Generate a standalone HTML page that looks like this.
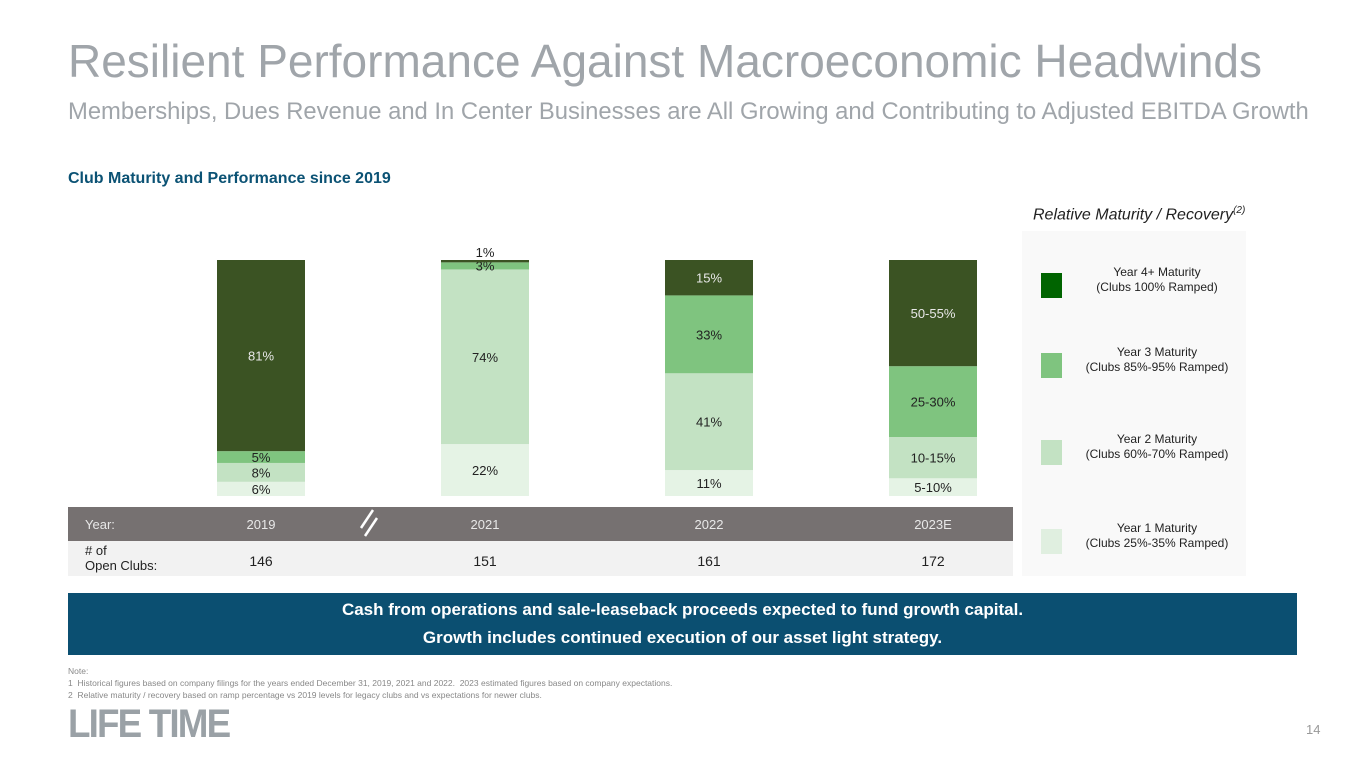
<!DOCTYPE html>
<html><head><meta charset="utf-8"><style>
body{margin:0;width:1365px;height:768px;background:#fff;font-family:"Liberation Sans",Arial,sans-serif;position:relative;overflow:hidden}
.a{position:absolute;white-space:nowrap}
</style></head><body>
<div class="a" style="left:68px;top:34px;font-size:46px;color:#a0a5aa">Resilient Performance Against Macroeconomic Headwinds</div>
<div class="a" style="left:68px;top:98px;font-size:23.8px;color:#a0a5aa">Memberships, Dues Revenue and In Center Businesses are All Growing and Contributing to Adjusted EBITDA Growth</div>
<div class="a" style="left:68px;top:170px;font-size:16px;font-weight:bold;color:#0b5274">Club Maturity and Performance since 2019</div>
<div class="a" style="left:1033px;top:205px;font-size:16px;font-style:italic;color:#222">Relative Maturity / Recovery<sup style="font-size:10px">(2)</sup></div>
<svg id="chart" width="1365" height="768" style="position:absolute;left:0;top:0"></svg>
<div class="a" style="left:68px;top:593px;width:1229px;height:62px;background:#0b4f71;color:#fff;font-weight:bold;font-size:17px;text-align:center;line-height:28px;padding-top:3px;box-sizing:border-box">Cash from operations and sale-leaseback proceeds expected to fund growth capital.<br>Growth includes continued execution of our asset light strategy.</div>
<div class="a" style="left:68px;top:665px;font-size:8.5px;color:#888;line-height:12px">Note:<br>1&nbsp; Historical figures based on company filings for the years ended December 31, 2019, 2021 and 2022.&nbsp; 2023 estimated figures based on company expectations.<br>2&nbsp; Relative maturity / recovery based on ramp percentage vs 2019 levels for legacy clubs and vs expectations for newer clubs.</div>
<div class="a" style="left:68px;top:704px;font-size:40px;font-weight:bold;color:#9aa1a6;letter-spacing:-2px;transform:scaleX(0.92);transform-origin:left;line-height:40px">LIFE TIME</div>
<div class="a" style="left:1306px;top:722px;font-size:13px;color:#999">14</div>
<script>
const years=["2019","2021","2022","2023E"];
const clubs=["146","151","161","172"];
const year1=[6,22,11,7.5];
const year2=[8,74,41,17.5];
const year3=[5,3,33,30];
const year4=[81,1,15,45];
const lab1=["6%","22%","11%","5-10%"];
const lab2=["8%","74%","41%","10-15%"];
const lab3=["5%","3%","33%","25-30%"];
const lab4=["81%","1%","15%","50-55%"];
const NS="http://www.w3.org/2000/svg";
const svg=document.getElementById('chart');
const x0=261,dx=224,bw=88,yB=496,yH=236;
const xc=i=>x0+i*dx;
const y=v=>yB-v/100*yH;
function mk(t,a){const e=document.createElementNS(NS,t);for(const k in a)e.setAttribute(k,a[k]);svg.appendChild(e);return e;}
function txt(x,yy,s,fill,size){const t=mk('text',{x:x,y:yy,'text-anchor':'middle','font-size':size||13,fill:fill,'font-family':'Liberation Sans, Arial, sans-serif'});t.textContent=s;return t;}
let r=mk('rect',{x:68,y:507,width:945,height:34,fill:'#767171'});


r=mk('rect',{x:68,y:541,width:945,height:35,fill:'#f2f2f2'});


let t=txt(85,529,"Year:",'#e8e8e8',13);t.setAttribute('text-anchor','start');
t=txt(85,555,"# of",'#222',13);t.setAttribute('text-anchor','start');
t=txt(85,570,"Open Clubs:",'#222',13);t.setAttribute('text-anchor','start');
mk('line',{x1:361,y1:528,x2:373,y2:510,stroke:'#fff','stroke-width':2.5});
mk('line',{x1:365,y1:536,x2:377,y2:518,stroke:'#fff','stroke-width':2.5});
const series=[[year1,lab1,'#e5f3e5','#222'],[year2,lab2,'#c3e2c3','#222'],[year3,lab3,'#7fc47f','#222'],[year4,lab4,'#3b5323','#e8e8e8']];
years.forEach((yr,i)=>{
  let base=0;
  series.forEach((s,k)=>{
    const v=s[0][i];
    const rc=mk('rect',{x:xc(i)-bw/2,y:y(base+v),width:bw,height:v/100*yH,fill:s[2]});
    
    
    let ly=(y(base)+y(base+v))/2+5, col=s[3];
    if(v<2){ly=y(base+v)-3;col='#222';}
    else if(v<4){ly=y(base)+1;}
    txt(xc(i),ly,s[1][i],col,13);
    base+=v;
  });
  txt(xc(i),529,yr,'#e8e8e8',13);
  txt(xc(i),566,clubs[i],'#222',14);
});
r=mk('rect',{x:1022,y:231,width:224,height:345,fill:'#f9f9f9'});


const legC=['#006400','#7fc47f','#c3e2c3','#e0efe0'];
const legA=['Year 4+ Maturity','Year 3 Maturity','Year 2 Maturity','Year 1 Maturity'];
const legB=['(Clubs 100% Ramped)','(Clubs 85%-95% Ramped)','(Clubs 60%-70% Ramped)','(Clubs 25%-35% Ramped)'];
const legY=[273,353,440,529];
legC.forEach((c,i)=>{
  const sw=mk('rect',{x:1041,y:legY[i],width:21,height:25,fill:c});
  
  
  txt(1157,legY[i]+3,legA[i],'#222',12);
  txt(1157,legY[i]+18,legB[i],'#222',12);
});
</script>
</body></html>
